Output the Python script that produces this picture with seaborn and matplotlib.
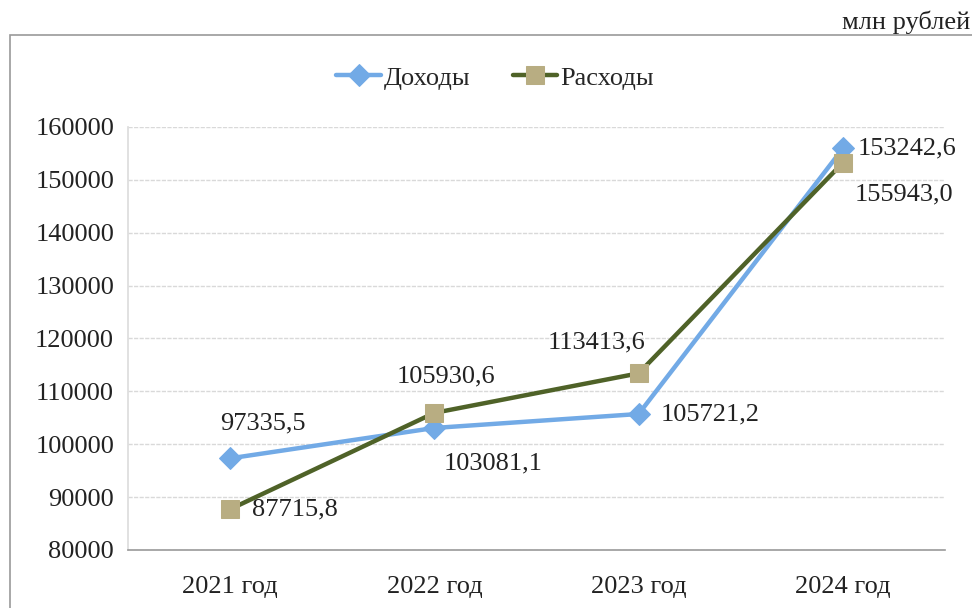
import matplotlib
matplotlib.use("Agg")
import matplotlib.pyplot as plt
import seaborn as sns
import pandas as pd
from matplotlib.patches import Rectangle

years = ["2021 год", "2022 год", "2023 год", "2024 год"]
dohody = [97335.5, 103081.1, 105721.2, 155943.0]
rashody = [87715.8, 105930.6, 113413.6, 153242.6]
# data label texts as printed on the chart
dohody_labels = ["97335,5", "103081,1", "105721,2", "153242,6"]
rashody_labels = ["87715,8", "105930,6", "113413,6", "155943,0"]
yticks = [80000, 90000, 100000, 110000, 120000, 130000, 140000, 150000, 160000]

sns.set_theme(style="white")
plt.rcParams["font.family"] = ["Liberation Serif", "DejaVu Serif"]

blue = "#72aae6"
olive = "#4f6228"
tan = "#b8ad82"
fs = 19

df = pd.DataFrame({"year": years, "Доходы": dohody, "Расходы": rashody})

fig = plt.figure(figsize=(9.72, 6.08), dpi=100)
ax = fig.add_axes([128 / 972, 1 - 550 / 608, (945 - 128) / 972, (550 - 127) / 608])

sns.lineplot(data=df, x="year", y="Доходы", ax=ax, color=blue, linewidth=3.2,
             marker="D", markersize=11, markerfacecolor=blue, markeredgecolor=blue,
             label="Доходы", sort=False)
sns.lineplot(data=df, x="year", y="Расходы", ax=ax, color=olive, linewidth=3.2,
             marker="s", markersize=13, markerfacecolor=tan, markeredgecolor=tan,
             label="Расходы", sort=False)

ax.set_xlim(-0.5, 3.5)
ax.set_ylim(80000, 160000)
ax.set_yticks(yticks)
ax.set_yticklabels([str(v) for v in yticks], fontsize=fs, color="#222222")
ax.set_xticks(range(len(years)))
ax.set_xticklabels(years, fontsize=fs, color="#222222")
ax.tick_params(axis="x", pad=19, length=0)
ax.tick_params(axis="y", pad=10, length=0)
ax.set_xlabel("")
ax.set_ylabel("")
ax.yaxis.grid(True, color="#d9d9d9", linewidth=1, linestyle=(0, (3, 1)))
for s in ["top", "right"]:
    ax.spines[s].set_visible(False)
ax.spines["left"].set_color("#dddddd")
ax.spines["bottom"].set_color("#9a9a9a")
ax.spines["bottom"].set_linewidth(1.2)

# data labels (pixel offsets)
d_off = [(33, 35, "center"), (59, -35, "center"), (22, 0, "left"), (15, 0, "left")]
r_off = [(22, 0, "left"), (12, 36, "center"), (-42, 31, "center"), (12, -32, "left")]
for i in range(len(years)):
    dx, dy, ha = d_off[i]
    ax.annotate(dohody_labels[i], (i, dohody[i]), xytext=(dx, dy),
                textcoords="offset pixels", ha=ha, va="center", fontsize=fs, color="#222222")
    dx, dy, ha = r_off[i]
    ax.annotate(rashody_labels[i], (i, rashody[i]), xytext=(dx, dy),
                textcoords="offset pixels", ha=ha, va="center", fontsize=fs, color="#222222")

ax.legend(loc="center", bbox_to_anchor=(495 / 972, 1 - 78 / 608), bbox_transform=fig.transFigure,
          ncol=2, frameon=False, fontsize=fs, handlelength=1.7, columnspacing=1.6, handletextpad=0.1)

# chart frame and unit note
fig.patches.append(Rectangle((10 / 972, -0.01), 1.0, 1 - 35 / 608 + 0.01, transform=fig.transFigure,
                             fill=False, edgecolor="#9a9a9a", linewidth=1.2))
fig.text(970 / 972, 1 - 22 / 608, "млн рублей", ha="right", va="center", fontsize=fs, color="#222222")

fig.savefig("out.png", dpi=100)
